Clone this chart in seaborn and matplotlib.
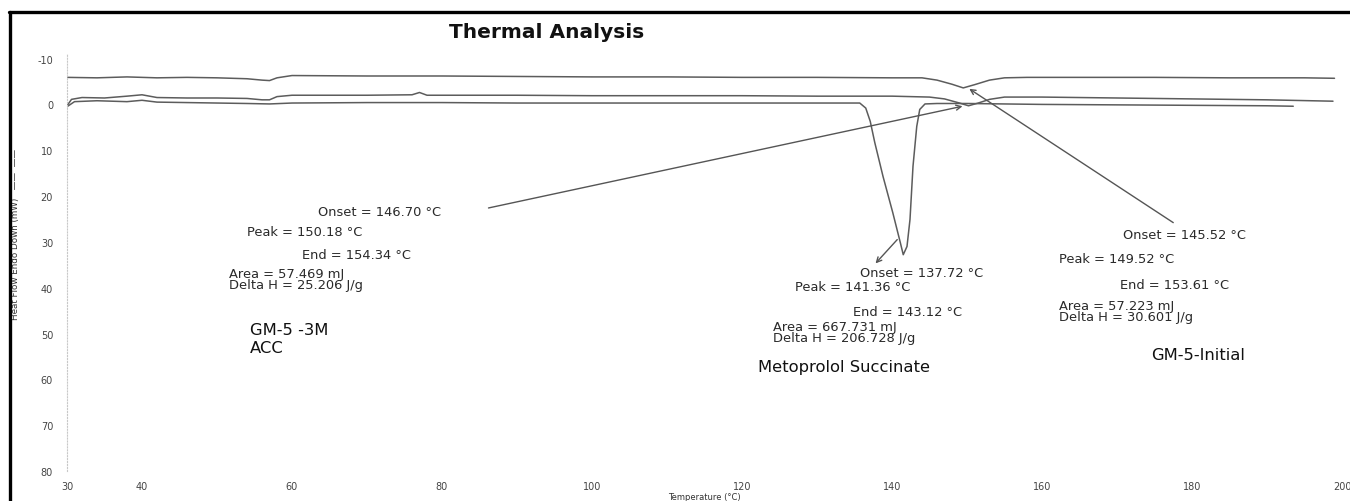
"""
DSC thermogram: GM-5 initial, GM-5 3M ACC and Metoprolol Succinate
"""
import pandas as pd
import matplotlib
matplotlib.use("Agg")
import matplotlib.pyplot as plt
from matplotlib.lines import Line2D
import seaborn as sns

# --- data ---------------------------------------------------------------
temp_initial = [30, 34, 38, 42, 46, 50, 54, 56, 57, 58, 60, 70, 80, 90, 100, 110,
                120, 130, 140, 144, 146, 148, 149.5, 151, 153, 155, 158, 165, 175,
                185, 195, 199]
hf_initial = [-5.9, -5.8, -6.0, -5.8, -5.9, -5.8, -5.6, -5.3, -5.2, -5.8, -6.3,
              -6.2, -6.2, -6.1, -6.0, -6.0, -5.9, -5.9, -5.8, -5.8, -5.3, -4.4,
              -3.6, -4.3, -5.3, -5.8, -5.9, -5.9, -5.9, -5.8, -5.8, -5.7]

temp_3m = [30, 30.6, 32, 35, 38, 40, 42, 46, 50, 54, 56, 57, 58, 60, 70, 76, 77,
           78, 90, 100, 110, 120, 130, 140, 145, 147, 149, 150.2, 151.5, 153,
           155, 160, 170, 180, 190, 198.8]
hf_3m = [0.3, -1.1, -1.5, -1.4, -1.8, -2.1, -1.5, -1.4, -1.4, -1.3, -1.0, -1.0,
         -1.7, -2.0, -2.0, -2.1, -2.6, -2.0, -2.0, -1.9, -1.9, -1.9, -1.8, -1.8,
         -1.6, -1.2, -0.3, 0.3, -0.3, -1.1, -1.6, -1.6, -1.4, -1.2, -1.0, -0.7]

temp_meto = [30, 31, 34, 38, 40, 42, 46, 50, 54, 57, 60, 70, 80, 90, 100, 110,
             120, 130, 134, 135.7, 136.5, 137.1, 137.7, 138.8, 140.1, 141.1, 141.5,
             142.0, 142.4, 142.8, 143.3, 143.7, 144.4, 146, 150, 160, 170, 180,
             190, 193.5]
hf_meto = [0.5, -0.6, -0.8, -0.6, -0.9, -0.5, -0.4, -0.3, -0.2, -0.1, -0.3, -0.4,
           -0.4, -0.3, -0.3, -0.3, -0.3, -0.3, -0.3, -0.3, 0.8, 3.7, 8.3, 15.7,
           23.6, 30.1, 32.8, 31.0, 25.1, 13.5, 4.8, 1.1, -0.1, -0.2, -0.2, 0.0,
           0.1, 0.2, 0.3, 0.4]

x_ticks = [30, 40, 60, 80, 100, 120, 140, 160, 180, 200]
y_ticks = [-10, 0, 10, 20, 30, 40, 50, 60, 70, 80]

# peak reports (text only)
report_3m = ["Onset = 146.70 °C", "Peak = 150.18 °C", "End = 154.34 °C",
             "Area = 57.469 mJ", "Delta H = 25.206 J/g"]
report_meto = ["Onset = 137.72 °C", "Peak = 141.36 °C", "End = 143.12 °C",
               "Area = 667.731 mJ", "Delta H = 206.728 J/g"]
report_initial = ["Onset = 145.52 °C", "Peak = 149.52 °C", "End = 153.61 °C",
                  "Area = 57.223 mJ", "Delta H = 30.601 J/g"]
sample_names = ["GM-5 -3M\nACC", "Metoprolol Succinate", "GM-5-Initial"]

# --- figure --------------------------------------------------------------
sns.set_style("white")
plt.rcParams["font.family"] = ["DejaVu Sans"]
plt.rcParams["axes.unicode_minus"] = False

fig = plt.figure(figsize=(13.5, 5.02), dpi=100)
ax = fig.add_axes([67 / 1350, 1 - 472 / 502, 1275 / 1350, 417 / 502])

line_col = "#5c5c5c"
for t, h in [(temp_initial, hf_initial), (temp_3m, hf_3m), (temp_meto, hf_meto)]:
    df = pd.DataFrame({"Temperature": t, "HeatFlow": h})
    sns.lineplot(data=df, x="Temperature", y="HeatFlow", ax=ax, sort=False,
                 estimator=None, color=line_col, lw=1.1)

ax.set_xlim(30, 200)
ax.set_ylim(80, -11)
ax.set_xticks(x_ticks)
ax.set_yticks(y_ticks)
ax.set_yticks(range(-10, 81, 2), minor=True)
ax.tick_params(axis="x", length=0, pad=7, labelsize=7, labelcolor="#444")
ax.tick_params(axis="y", which="major", length=3, width=0.6, color="#bbb",
               pad=7, labelsize=7, labelcolor="#444")
ax.tick_params(axis="y", which="minor", length=1.5, width=0.5, color="#ccc")
for s in ["top", "right", "bottom"]:
    ax.spines[s].set_visible(False)
ax.spines["left"].set_linestyle(":")
ax.spines["left"].set_color("#c8c8c8")
ax.spines["left"].set_linewidth(0.8)

ax.set_xlabel("Temperature (°C)", fontsize=6, color="#333", va="center")
ax.xaxis.set_label_coords(0.5, -0.062)
ax.set_ylabel("Heat Flow Endo Down (mW)   ——  ——", fontsize=6.3, color="#333")
ax.yaxis.set_label_coords(-0.037, 0.57)

# report texts
txt = dict(fontsize=9.4, color="#2a2a2a", va="center", ha="left")
for s, (x, y) in zip(report_3m, [(63.5, 23.4), (54.0, 27.7), (61.3, 32.8),
                                 (51.6, 36.9), (51.6, 39.3)]):
    ax.text(x, y, s, **txt)
for s, (x, y) in zip(report_meto, [(135.7, 36.7), (127.1, 39.7), (134.8, 45.2),
                                   (124.1, 48.5), (124.1, 50.9)]):
    ax.text(x, y, s, **txt)
for s, (x, y) in zip(report_initial, [(170.8, 28.4), (162.3, 33.6), (170.4, 39.3),
                                      (162.3, 43.9), (162.3, 46.3)]):
    ax.text(x, y, s, **txt)

big = dict(fontsize=11.8, color="#111", va="center", ha="left")
ax.text(54.4, 51.1, sample_names[0], linespacing=1.25, **big)
ax.text(122.1, 57.2, sample_names[1], **big)
ax.text(174.5, 54.6, sample_names[2], **big)

# onset pointers
arrow = dict(arrowstyle="->", color="#555", lw=1.0, shrinkA=0, shrinkB=0,
             mutation_scale=9)
ax.annotate("", xy=(149.4, 0.4), xytext=(86.2, 22.6), arrowprops=arrow)
ax.annotate("", xy=(150.3, -3.4), xytext=(177.5, 25.8), arrowprops=arrow)
ax.annotate("", xy=(137.8, 34.7), xytext=(140.7, 29.5), arrowprops=arrow)

fig.text(547 / 1350, 1 - 33 / 502, "Thermal Analysis", fontsize=14.5,
         fontweight="black", ha="center", va="center", color="#111")

# frame of the scanned page
fig.add_artist(Line2D([9 / 1350, 1], [1 - 13 / 502] * 2,
                      transform=fig.transFigure, color="black", lw=2.4))
fig.add_artist(Line2D([10 / 1350] * 2, [0, 1 - 13 / 502],
                      transform=fig.transFigure, color="black", lw=2.4))

fig.savefig("out.png", dpi=100)
